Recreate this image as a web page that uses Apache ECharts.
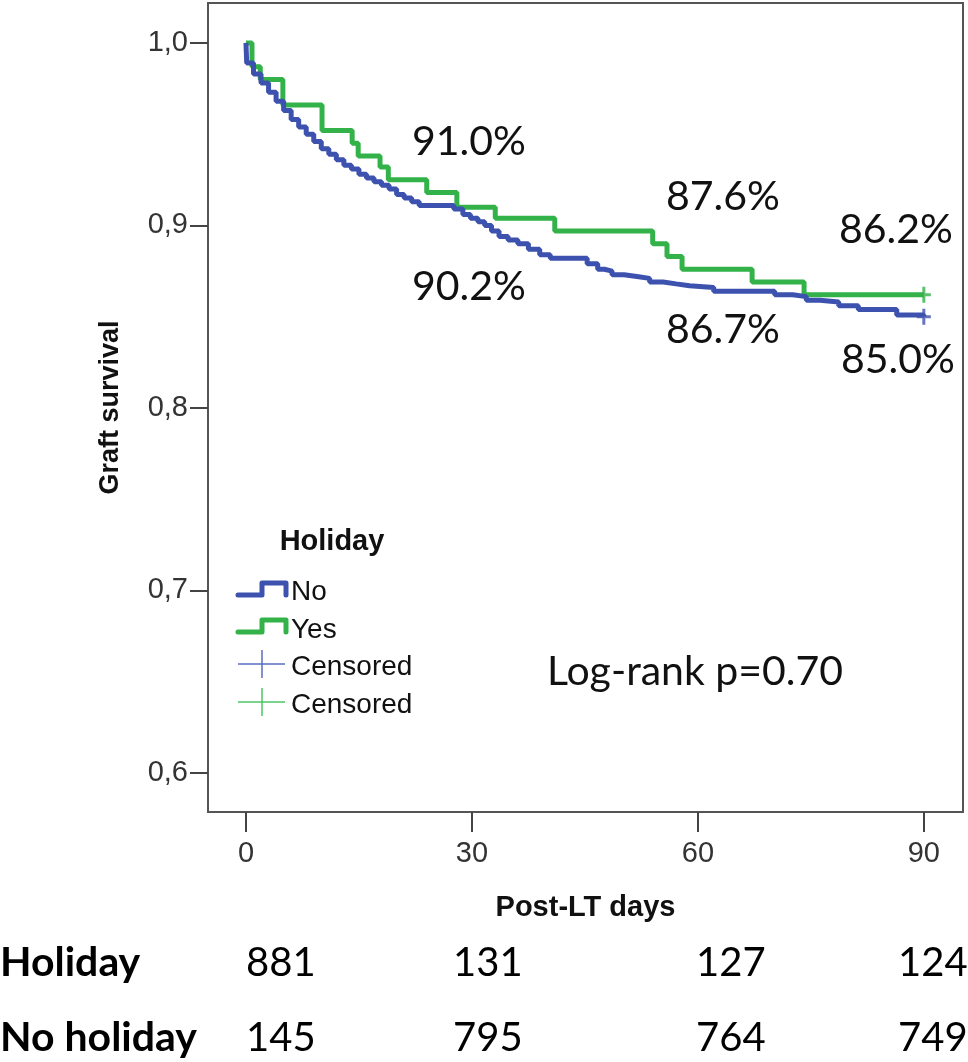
<!DOCTYPE html>
<html>
<head>
<meta charset="utf-8">
<script src="https://cdn.jsdelivr.net/npm/echarts@6/dist/echarts.min.js"></script>
<style>
html,body{margin:0;padding:0;background:#fff;}
#chart{width:968px;height:1062px;}
</style>
</head>
<body>
<div id="chart"></div>
<script>
// ---- data ----
const dayTicks = [0, 30, 60, 90];
const survTicks = [0.6, 0.7, 0.8, 0.9, 1.0];

// Holiday = Yes (green)
const yesDays = [0, 0.8, 1.9, 4.9, 10.1, 14.1, 14.9, 17.8, 18.9, 24.0, 28.0, 33.1, 41.0, 54.0, 55.9, 57.9, 67.2, 74.1, 90];
const yesSurv = [1.000, 0.987, 0.980, 0.966, 0.952, 0.945, 0.938, 0.932, 0.925, 0.918, 0.910, 0.904, 0.897, 0.890, 0.883, 0.876, 0.869, 0.862, 0.862];

// Holiday = No (blue)
const noDays = [0, 0.1, 1, 2, 3, 4, 5, 6, 7, 8, 9, 10, 11, 12, 13, 14, 15, 16, 17, 18, 19, 20, 21, 22, 23,
  27.6, 28.8, 29.8, 30.8, 31.7, 32.6, 33.6, 34.8, 36.1, 37.5, 39.0, 40.4, 45.3, 46.7, 47.6, 48.6, 50.2, 51.9,
  53.6, 55.4, 57.1, 58.9, 62.1, 70.2, 72.6, 74.4, 76.2, 78.7, 81.3, 86.4, 90];
const noSurv = [1.000, 0.989, 0.983, 0.978, 0.973, 0.968, 0.963, 0.958, 0.954, 0.950, 0.946, 0.942, 0.939, 0.936, 0.933, 0.931, 0.928, 0.926, 0.924, 0.922, 0.920, 0.917, 0.915, 0.913, 0.911,
  0.909, 0.906, 0.904, 0.902, 0.900, 0.897, 0.894, 0.892, 0.890, 0.887, 0.884, 0.882, 0.879, 0.876, 0.875, 0.873, 0.872, 0.871,
  0.869, 0.868, 0.867, 0.866, 0.864, 0.862, 0.861, 0.859, 0.858, 0.856, 0.854, 0.851, 0.850];

const censorDay = [90];
const yesCensorSurv = [0.862];
const noCensorSurv = [0.850];

const atRiskLabels = ['Holiday', 'No holiday'];
const atRiskHoliday = [881, 131, 127, 124];
const atRiskNoHoliday = [145, 795, 764, 749];

const pctLabels = ['91.0%', '90.2%', '87.6%', '86.7%', '86.2%', '85.0%'];
const logRank = 'Log-rank p=0.70';

// ---- styling ----
const BLUE = '#3d52ae';
const GREEN = '#33b249';
const BLUE_L = '#5a6cc4';
const GREEN_L = '#4cc465';
const plusPath = 'path://M0,6.5L14,6.5L14,9.5L0,9.5Z M5.5,0L8.5,0L8.5,16L5.5,16Z';

const zip = (a, b) => a.map((v, i) => [v, b[i]]);

const chart = echarts.init(document.getElementById('chart'), null, {renderer: 'canvas'});

const numFont = 'Lato, "Open Sans", sans-serif';
const arial = '"Liberation Sans", Arial, sans-serif';

const graphics = [];
// percent labels
const pctPos = [[469, 142], [469, 287], [723, 197], [723, 330], [896, 230], [898, 360]];
pctLabels.forEach((t, i) => graphics.push({
  type: 'text', x: pctPos[i][0], y: pctPos[i][1],
  style: {text: t, font: '41px ' + numFont, fill: '#111', textAlign: 'center', textVerticalAlign: 'middle'}
}));
graphics.push({type: 'text', x: 695, y: 672,
  style: {text: logRank, font: '41px ' + numFont, fill: '#111', textAlign: 'center', textVerticalAlign: 'middle'}});

// legend
graphics.push({type: 'text', x: 332, y: 542,
  style: {text: 'Holiday', font: 'bold 29px ' + arial, fill: '#111', textAlign: 'center', textVerticalAlign: 'middle'}});
graphics.push({type: 'polyline', shape: {points: [[238, 595], [262, 595], [262, 583], [286, 583], [286, 595]]},
  style: {stroke: BLUE, lineWidth: 5, lineCap: 'round', lineJoin: 'round', fill: null}});
graphics.push({type: 'polyline', shape: {points: [[238, 632], [262, 632], [262, 620], [286, 620], [286, 632]]},
  style: {stroke: GREEN, lineWidth: 5, lineCap: 'round', lineJoin: 'round', fill: null}});
[[664, BLUE_L], [702, GREEN_L]].forEach(([cy, c]) => {
  graphics.push({type: 'line', shape: {x1: 238, y1: cy, x2: 285, y2: cy}, style: {stroke: c, lineWidth: 1.5}});
  graphics.push({type: 'line', shape: {x1: 262, y1: cy - 14, x2: 262, y2: cy + 14}, style: {stroke: c, lineWidth: 1.5}});
});
[['No', 592], ['Yes', 630], ['Censored', 667], ['Censored', 705]].forEach(([t, y]) => graphics.push({
  type: 'text', x: 291, y: y,
  style: {text: t, font: '28px ' + arial, fill: '#111', textAlign: 'left', textVerticalAlign: 'middle'}
}));

// at-risk table
const colX = [246, 453, 696, 898];
graphics.push({type: 'text', x: 0, y: 963,
  style: {text: atRiskLabels[0], font: 'bold 41px ' + numFont, fill: '#000', textAlign: 'left', textVerticalAlign: 'middle'}});
graphics.push({type: 'text', x: 0, y: 1038,
  style: {text: atRiskLabels[1], font: 'bold 41px ' + numFont, fill: '#000', textAlign: 'left', textVerticalAlign: 'middle'}});
atRiskHoliday.forEach((v, i) => graphics.push({type: 'text', x: colX[i], y: 963,
  style: {text: String(v), font: '40px ' + numFont, fill: '#000', textAlign: 'left', textVerticalAlign: 'middle'}}));
atRiskNoHoliday.forEach((v, i) => graphics.push({type: 'text', x: colX[i], y: 1038,
  style: {text: String(v), font: '40px ' + numFont, fill: '#000', textAlign: 'left', textVerticalAlign: 'middle'}}));

const option = {
  animation: false,
  backgroundColor: '#fff',
  grid: {left: 208, right: 5, top: 3, bottom: 250, show: true, borderColor: '#555', borderWidth: 2, backgroundColor: 'transparent'},
  xAxis: {
    type: 'value', min: -5.04, max: 95.2,
    name: 'Post-LT days', nameLocation: 'middle', nameGap: 81,
    nameTextStyle: {fontFamily: arial, fontWeight: 'bold', fontSize: 29, color: '#111'},
    axisLine: {show: false, onZero: false},
    axisTick: {show: true, length: 20, lineStyle: {color: '#444', width: 2}, customValues: dayTicks},
    axisLabel: {margin: 27, fontFamily: arial, fontSize: 29, color: '#333', customValues: dayTicks,
      formatter: v => String(v)},
    splitLine: {show: false}
  },
  yAxis: {
    type: 'value', min: 0.5786, max: 1.0219,
    name: 'Graft survival', nameLocation: 'middle', nameGap: 84, nameRotate: 90,
    nameTextStyle: {fontFamily: arial, fontWeight: 'bold', fontSize: 27, color: '#111'},
    axisLine: {show: false, onZero: false},
    axisTick: {show: true, length: 18, lineStyle: {color: '#444', width: 2}, customValues: survTicks},
    axisLabel: {margin: 20, fontFamily: arial, fontSize: 29, color: '#333', customValues: survTicks,
      formatter: v => v.toFixed(1).replace('.', ',')},
    splitLine: {show: false}
  },
  series: [
    {name: 'No', type: 'line', step: 'end', data: zip(noDays, noSurv), showSymbol: false, symbol: 'none',
      lineStyle: {color: BLUE, width: 5}, z: 3},
    {name: 'Yes', type: 'line', step: 'end', data: zip(yesDays, yesSurv), showSymbol: false, symbol: 'none',
      lineStyle: {color: GREEN, width: 5}, z: 2},
    {name: 'Censored No', type: 'scatter', data: zip(censorDay, noCensorSurv), symbol: plusPath, symbolSize: [14, 16],
      itemStyle: {color: BLUE}, z: 4},
    {name: 'Censored Yes', type: 'scatter', data: zip(censorDay, yesCensorSurv), symbol: plusPath, symbolSize: [14, 16],
      itemStyle: {color: GREEN}, z: 4}
  ],
  graphic: graphics
};
chart.setOption(option);
</script>
</body>
</html>
